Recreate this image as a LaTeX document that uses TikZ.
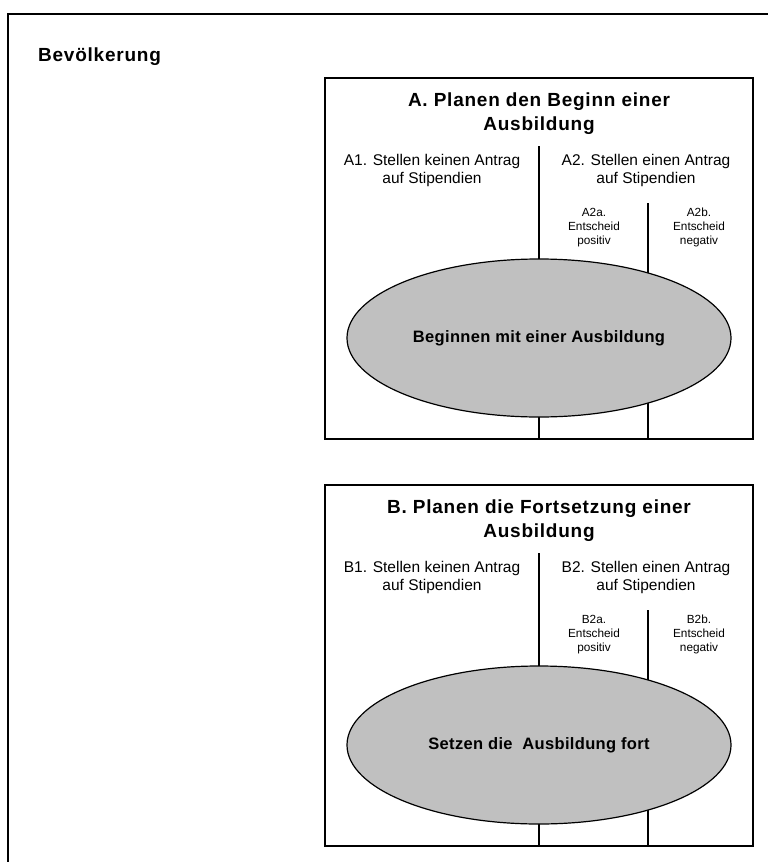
\documentclass[tikz,border=0pt]{standalone}
\usepackage{fontspec}
\setmainfont{Liberation Sans}
\newfontfamily\spacedfont[LetterSpace=4]{Liberation Sans}
\newfontfamily\ellfont[LetterSpace=2]{Liberation Sans}
\usetikzlibrary{shapes.geometric}
\definecolor{ellgray}{HTML}{C0C0C0}
\tikzset{
  frameline/.style={line width=1.8pt, black},
  boxshape/.style={draw, line width=1.6pt, rectangle, inner sep=0pt, outer sep=0pt,
    minimum width=428pt, minimum height=361pt, anchor=north west},
  divider/.style={line width=1.2pt},
  blob/.style={draw, line width=1.2pt, ellipse, fill=ellgray, inner sep=0pt,
    minimum width=384pt, minimum height=158pt,
    font={\ellfont\bfseries\fontsize{16.5}{18}\selectfont}},
  headtext/.style={inner sep=0pt, font={\spacedfont\bfseries\fontsize{19}{24}\selectfont}},
  titletext/.style={inner sep=0pt, align=center, anchor=base,
    font={\spacedfont\bfseries\fontsize{19}{24}\selectfont}},
  labeltext/.style={inner sep=0pt, align=center, anchor=base,
    font={\fontsize{15.5}{18.3}\selectfont}},
  smalltext/.style={inner sep=0pt, align=center, anchor=base,
    font={\fontsize{11.8}{14}\selectfont}}
}
\begin{document}
\begin{tikzpicture}[x=1pt, y=-1pt]
\useasboundingbox (0,0) rectangle (768,862);
\clip (0,0) rectangle (768,862);
% outer frame (continues beyond the right and bottom edge)
\draw[frameline] (8,880) -- (8,14) -- (790,14);
\node[headtext, anchor=base west] (pop) at (38,61.5) {Bevölkerung};

% ---------- Box A ----------
\node[boxshape] (abox) at (325,78) {};
\coordinate (adivtop) at (539,146);
\coordinate (asubtop) at (648,203);
\draw[divider] (adivtop) -- (adivtop |- abox.south);
\draw[divider] (asubtop) -- (asubtop |- abox.south);
\node[titletext] (atitle) at (539,130) {A. Planen den Beginn einer\\Ausbildung};
\node[labeltext] (aone) at (432,183.3) {A1. Stellen keinen Antrag\\auf Stipendien};
\node[labeltext] (atwo) at (646,183.3) {A2. Stellen einen Antrag\\auf Stipendien};
\node[smalltext] (atwoa) at (594,244.7) {A2a.\\Entscheid\\positiv};
\node[smalltext] (atwob) at (699,244.7) {A2b.\\Entscheid\\negativ};
\node[blob] (aell) at (539,338) {Beginnen mit einer Ausbildung};

% ---------- Box B ----------
\node[boxshape] (bbox) at (325,485) {};
\coordinate (bdivtop) at (539,553);
\coordinate (bsubtop) at (648,610);
\draw[divider] (bdivtop) -- (bdivtop |- bbox.south);
\draw[divider] (bsubtop) -- (bsubtop |- bbox.south);
\node[titletext] (btitle) at (539,537) {B. Planen die Fortsetzung einer\\Ausbildung};
\node[labeltext] (bone) at (432,590.3) {B1. Stellen keinen Antrag\\auf Stipendien};
\node[labeltext] (btwo) at (646,590.3) {B2. Stellen einen Antrag\\auf Stipendien};
\node[smalltext] (btwoa) at (594,651.7) {B2a.\\Entscheid\\positiv};
\node[smalltext] (btwob) at (699,651.7) {B2b.\\Entscheid\\negativ};
\node[blob] (bell) at (539,745) {Setzen die\ \ Ausbildung fort};
\end{tikzpicture}
\end{document}
